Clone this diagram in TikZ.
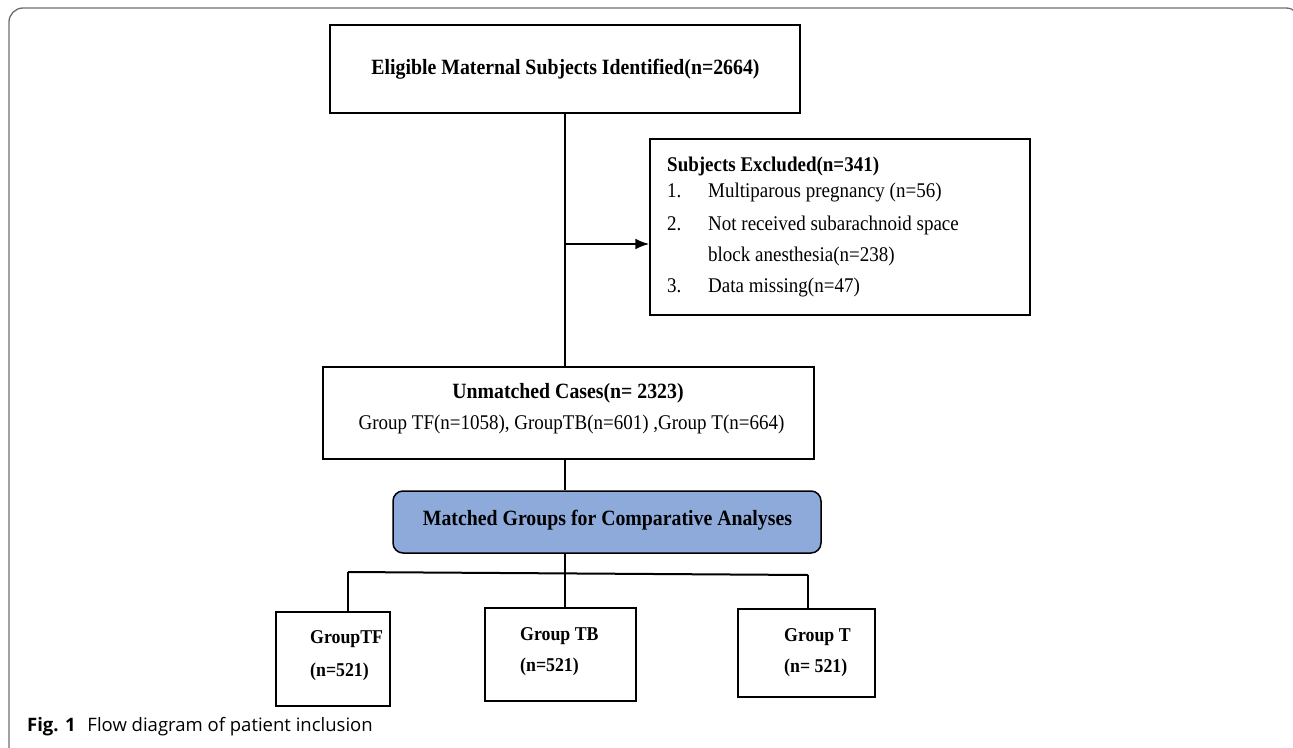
\documentclass[tikz,border=0pt]{standalone}
\usepackage{fontspec}
\setmainfont{Liberation Serif}
\newfontfamily\capfont{Open Sans}
\usetikzlibrary{arrows.meta}
\definecolor{matfill}{RGB}{142,170,219}
\definecolor{framegray}{RGB}{110,110,110}
\newcommand{\vst}[1]{\scalebox{1}[1.1]{#1}}
\begin{document}
\begin{tikzpicture}[x=1pt,y=-1pt,
  box/.style={draw=black,line width=1.5pt,inner sep=0pt},
  conn/.style={draw=black,line width=2pt},
  bt/.style={anchor=base,font=\fontsize{19.8}{22}\selectfont\bfseries,inner sep=0pt},
  rt/.style={font=\fontsize{19}{22}\selectfont,inner sep=0pt},
  et/.style={anchor=base west,inner sep=0pt},
  gt/.style={anchor=base west,inner sep=0pt,font=\fontsize{17.8}{20}\selectfont\bfseries}]
\useasboundingbox (0,0) rectangle (1293,747);
\begin{scope}
\clip (0,0) rectangle (1293,747);
\draw[framegray,line width=1.3pt,rounded corners=14pt] (9,8) rectangle (1300,762);
\end{scope}
% boxes
\node[box,minimum width=470pt,minimum height=88pt] (top) at (565,69) {};
\node[box,minimum width=380pt,minimum height=176pt] (excl) at (840,227) {};
\node[box,minimum width=491pt,minimum height=92pt] (unm) at (568.5,413) {};
\node[box,fill=matfill,minimum width=428pt,minimum height=62pt,rounded corners=10pt] (mat) at (607,522) {};
\node[box,minimum width=114pt,minimum height=94pt] (tf) at (333,659) {};
\node[box,minimum width=151pt,minimum height=93pt] (tb) at (560.5,654.5) {};
\node[box,minimum width=137pt,minimum height=88pt] (tt) at (806.5,653) {};
% texts
\node[bt] (toptxt) at (565.5,74) {\vst{Eligible Maternal Subjects Identified(n=2664)}};
\node[et,font=\fontsize{19}{22}\selectfont\bfseries] (ex0) at (667,171) {\vst{Subjects Excluded(n=341)}};
\node[et,rt] (ex1n) at (667,197) {\vst{1.}};
\node[et,rt] (ex1) at (708,197) {\vst{Multiparous pregnancy (n=56)}};
\node[et,rt] (ex2n) at (667,230) {\vst{2.}};
\node[et,rt] (ex2) at (708,230) {\vst{Not received subarachnoid space}};
\node[et,rt] (ex2b) at (708,261) {\vst{block anesthesia(n=238)}};
\node[et,rt] (ex3n) at (667,292) {\vst{3.}};
\node[et,rt] (ex3) at (708,292) {\vst{Data missing(n=47)}};
\node[bt] (unm1) at (568,398) {\vst{Unmatched Cases(n= 2323)}};
\node[rt,anchor=base] (unm2) at (571.5,429) {\vst{Group TF(n=1058), GroupTB(n=601) ,Group T(n=664)}};
\node[bt] (mattxt) at (607.5,525) {\vst{Matched Groups for Comparative Analyses}};
\node[gt] (tf1) at (310,643) {\vst{GroupTF}};
\node[gt] (tf2) at (310,676) {\vst{(n=521)}};
\node[gt] (tb1) at (520,640) {\vst{Group TB}};
\node[gt] (tb2) at (520,671) {\vst{(n=521)}};
\node[gt] (tt1) at (784,641) {\vst{Group T}};
\node[gt] (tt2) at (784,672) {\vst{(n= 521)}};
% connectors
\coordinate (j1) at (565,244);
\coordinate (hL) at (348,572);
\coordinate (hR) at (808,575);
\draw[conn] (top.south) -- (top.south |- unm.north);
\draw[conn,-{Latex[length=14pt,width=11pt]}] (j1) -- (j1 -| excl.west);
\draw[conn] (top.south |- unm.south) -- (top.south |- mat.north);
\draw[conn] (top.south |- mat.south) -- (top.south |- tb.north);
\draw[conn] (hL) -- (hR);
\draw[conn] (hL) -- (hL |- tf.north);
\draw[conn] (hR) -- (hR |- tt.north);
% caption
\node[anchor=base west,inner sep=0pt,font=\capfont\fontsize{18.5}{21}\selectfont] (cap) at (27,731) {\textbf{Fig. 1}\hspace{7pt} Flow diagram of patient inclusion};
\end{tikzpicture}
\end{document}
